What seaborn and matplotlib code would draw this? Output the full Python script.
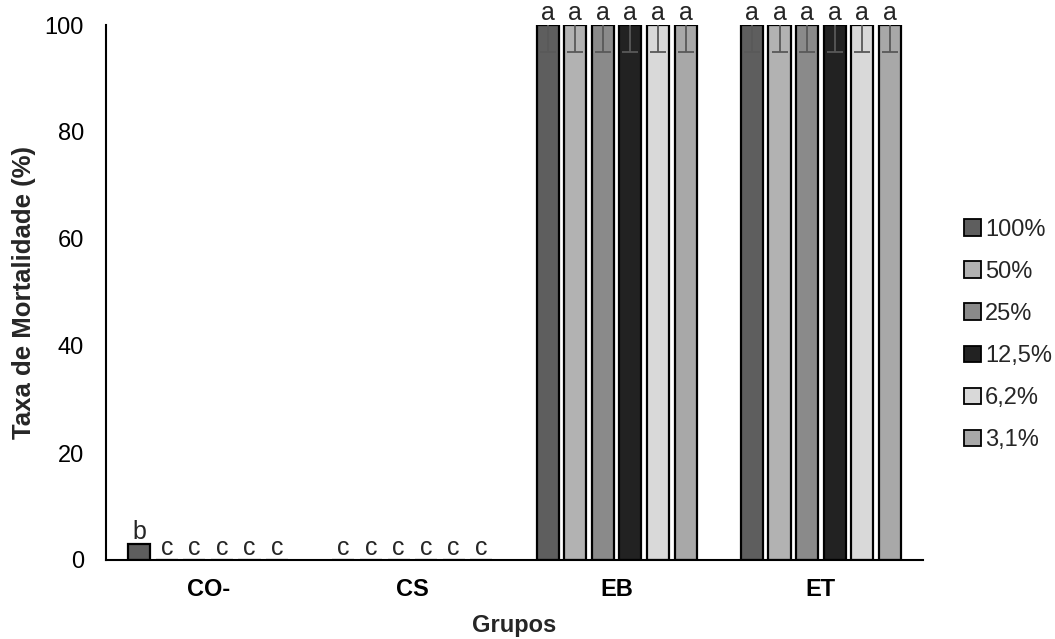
import matplotlib
matplotlib.use("Agg")
import matplotlib.pyplot as plt
from matplotlib.container import BarContainer
import seaborn as sns
import pandas as pd
import numpy as np

# data
grupos = ["CO-", "CS", "EB", "ET"]
concentracoes = ["100%", "50%", "25%", "12,5%", "6,2%", "3,1%"]
mortalidade = [
    [3, 0, 0, 0, 0, 0],          # CO-
    [0, 0, 0, 0, 0, 0],          # CS
    [100, 100, 100, 100, 100, 100],  # EB
    [100, 100, 100, 100, 100, 100],  # ET
]
erro = [
    [0, 0, 0, 0, 0, 0],
    [0, 0, 0, 0, 0, 0],
    [5, 5, 5, 5, 5, 5],
    [5, 5, 5, 5, 5, 5],
]
letras = [
    ["b", "c", "c", "c", "c", "c"],
    ["c", "c", "c", "c", "c", "c"],
    ["a", "a", "a", "a", "a", "a"],
    ["a", "a", "a", "a", "a", "a"],
]
cores = ["#5e5e5e", "#b2b2b2", "#8a8a8a", "#222222", "#d9d9d9", "#a8a8a8"]

rows = []
for g, vals in zip(grupos, mortalidade):
    for c, v in zip(concentracoes, vals):
        rows.append({"Grupos": g, "conc": c, "taxa": v})
df = pd.DataFrame(rows)

sns.set_style("white")
plt.rcParams["font.family"] = ["Liberation Sans", "DejaVu Sans"]
fs = 17

fig = plt.figure(figsize=(10.55, 6.39), dpi=100)
ax = fig.add_axes([106 / 1055, 1 - 560 / 639, (923 - 106) / 1055, (560 - 25) / 639])

sns.barplot(
    data=df, x="Grupos", y="taxa", hue="conc",
    order=grupos, hue_order=concentracoes, palette=cores,
    width=0.81, gap=0.2, errorbar=None,
    edgecolor="black", linewidth=1.6, ax=ax,
)

# error bars + letters on top of each bar
barras = [c for c in ax.containers if isinstance(c, BarContainer)]
for i, cont in enumerate(barras):
    for j, bar in enumerate(cont):
        xc = bar.get_x() + bar.get_width() / 2
        h = bar.get_height()
        if erro[j][i] > 0:
            ax.errorbar(xc, h, yerr=erro[j][i], color="#595959",
                        elinewidth=1.3, capsize=6, capthick=1.3, fmt="none")
        ax.annotate(letras[j][i], (xc, h), xytext=(0, 0), textcoords="offset points",
                    ha="center", va="bottom", fontsize=18, annotation_clip=False)

ax.set_xlim(-0.5, 3.5)
ax.set_ylim(0, 100)
ax.set_yticks([0, 20, 40, 60, 80, 100])
ax.tick_params(axis="both", length=0, labelsize=fs, colors="black")
ax.tick_params(axis="y", pad=16)
ax.tick_params(axis="x", pad=13)
for lab in ax.get_xticklabels():
    lab.set_fontweight("bold")

for s in ["top", "right"]:
    ax.spines[s].set_visible(False)
for s in ["left", "bottom"]:
    ax.spines[s].set_color("black")
    ax.spines[s].set_linewidth(1.5)

ax.set_xlabel("Grupos", fontsize=fs, fontweight="bold", labelpad=9)
ax.set_ylabel("Taxa de Mortalidade (%)", fontsize=18.5, fontweight="bold", labelpad=6)

leg = ax.legend(
    loc="center left", bbox_to_anchor=(964 / 1055, 1 - 335 / 639),
    bbox_transform=fig.transFigure, frameon=False, fontsize=17,
    handlelength=0.7, handleheight=0.7, handletextpad=0.2,
    labelspacing=0.85, borderpad=0, borderaxespad=0, title=None,
)
for h in leg.legend_handles:
    h.set_edgecolor("black")
    h.set_linewidth(1.3)

fig.savefig("out.png", dpi=100)
